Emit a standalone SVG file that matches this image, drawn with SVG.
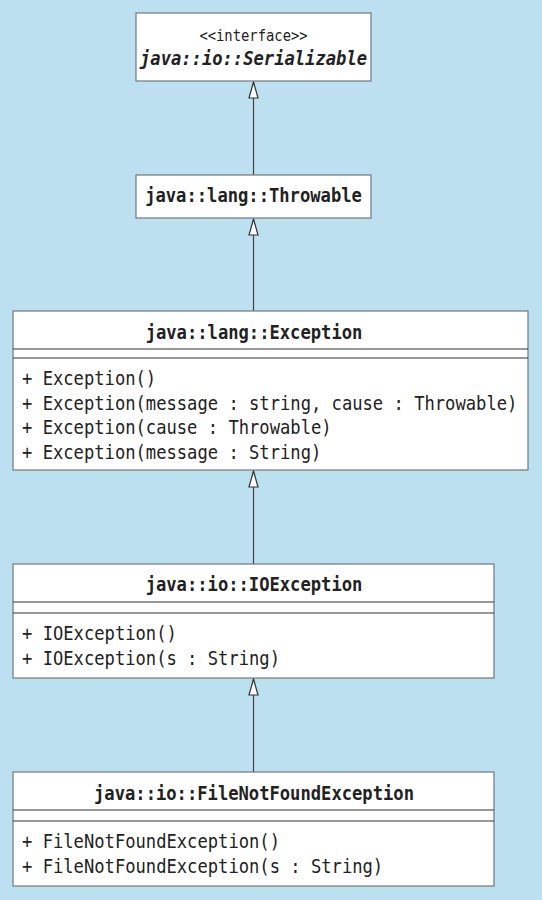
<svg xmlns="http://www.w3.org/2000/svg" width="542" height="900" viewBox="0 0 542 900">
<style>
.box{fill:#ffffff;stroke:#6d7883;stroke-width:1.2}
.sep{stroke:#333;stroke-width:1.2}
.t{font-family:"DejaVu Sans Mono","Liberation Mono",monospace;font-size:18.6px;fill:#222}
.s{font-size:15px;text-anchor:middle}
.h{font-weight:bold;text-anchor:middle}
.m{text-anchor:start}
.edge{stroke:#444;stroke-width:1.2;fill:none;marker-end:url(#tri)}
</style>
<defs>
<marker id="tri" viewBox="-17 -6 18 12" refX="0" refY="0" markerWidth="18" markerHeight="12" markerUnits="userSpaceOnUse" orient="auto">
<path d="M0,0 L-16,-4.5 L-16,4.5 Z" fill="#fff" stroke="#333" stroke-width="1.2" stroke-linejoin="miter"/>
</marker>
</defs>
<rect width="542" height="900" fill="#bde0f0"/>
<g id="connectors">
<line class="edge" x1="253.5" y1="175" x2="253.5" y2="82"/>
<line class="edge" x1="253.5" y1="311" x2="253.5" y2="219"/>
<line class="edge" x1="253.5" y1="564" x2="253.5" y2="471"/>
<line class="edge" x1="253.5" y1="772" x2="253.5" y2="679"/>
</g>
<g id="serializable">
<rect class="box" x="136" y="13" width="235" height="68"/>
<text class="t s" transform="translate(253.5 41) scale(0.9225 1)">&lt;&lt;interface&gt;&gt;</text>
<text class="t h" transform="translate(253.5 65) scale(0.9225 1)" font-style="italic">java::io::Serializable</text>
</g>
<g id="throwable">
<rect class="box" x="136" y="175" width="235" height="43"/>
<text class="t h" transform="translate(253.5 202) scale(0.9225 1)">java::lang::Throwable</text>
</g>
<g id="exception">
<rect class="box" x="13" y="311" width="515" height="159"/>
<line class="sep" x1="13" y1="349" x2="528" y2="349"/>
<line class="sep" x1="13" y1="358" x2="528" y2="358"/>
<text class="t h" transform="translate(254 339) scale(0.9225 1)">java::lang::Exception</text>
<text class="t m" transform="translate(22 385) scale(0.9225 1)">+ Exception()</text>
<text class="t m" transform="translate(22 410) scale(0.9225 1)">+ Exception(message : string, cause : Throwable)</text>
<text class="t m" transform="translate(22 434) scale(0.9225 1)">+ Exception(cause : Throwable)</text>
<text class="t m" transform="translate(22 459) scale(0.9225 1)">+ Exception(message : String)</text>
</g>
<g id="ioexception">
<rect class="box" x="13" y="564" width="481" height="114"/>
<line class="sep" x1="13" y1="602" x2="494" y2="602"/>
<line class="sep" x1="13" y1="613" x2="494" y2="613"/>
<text class="t h" transform="translate(254 591) scale(0.9225 1)">java::io::IOException</text>
<text class="t m" transform="translate(22 640) scale(0.9225 1)">+ IOException()</text>
<text class="t m" transform="translate(22 665) scale(0.9225 1)">+ IOException(s : String)</text>
</g>
<g id="filenotfound">
<rect class="box" x="13" y="772" width="481" height="114"/>
<line class="sep" x1="13" y1="810" x2="494" y2="810"/>
<line class="sep" x1="13" y1="821" x2="494" y2="821"/>
<text class="t h" transform="translate(254 800) scale(0.9225 1)">java::io::FileNotFoundException</text>
<text class="t m" transform="translate(22 848) scale(0.9225 1)">+ FileNotFoundException()</text>
<text class="t m" transform="translate(22 873) scale(0.9225 1)">+ FileNotFoundException(s : String)</text>
</g>
</svg>
